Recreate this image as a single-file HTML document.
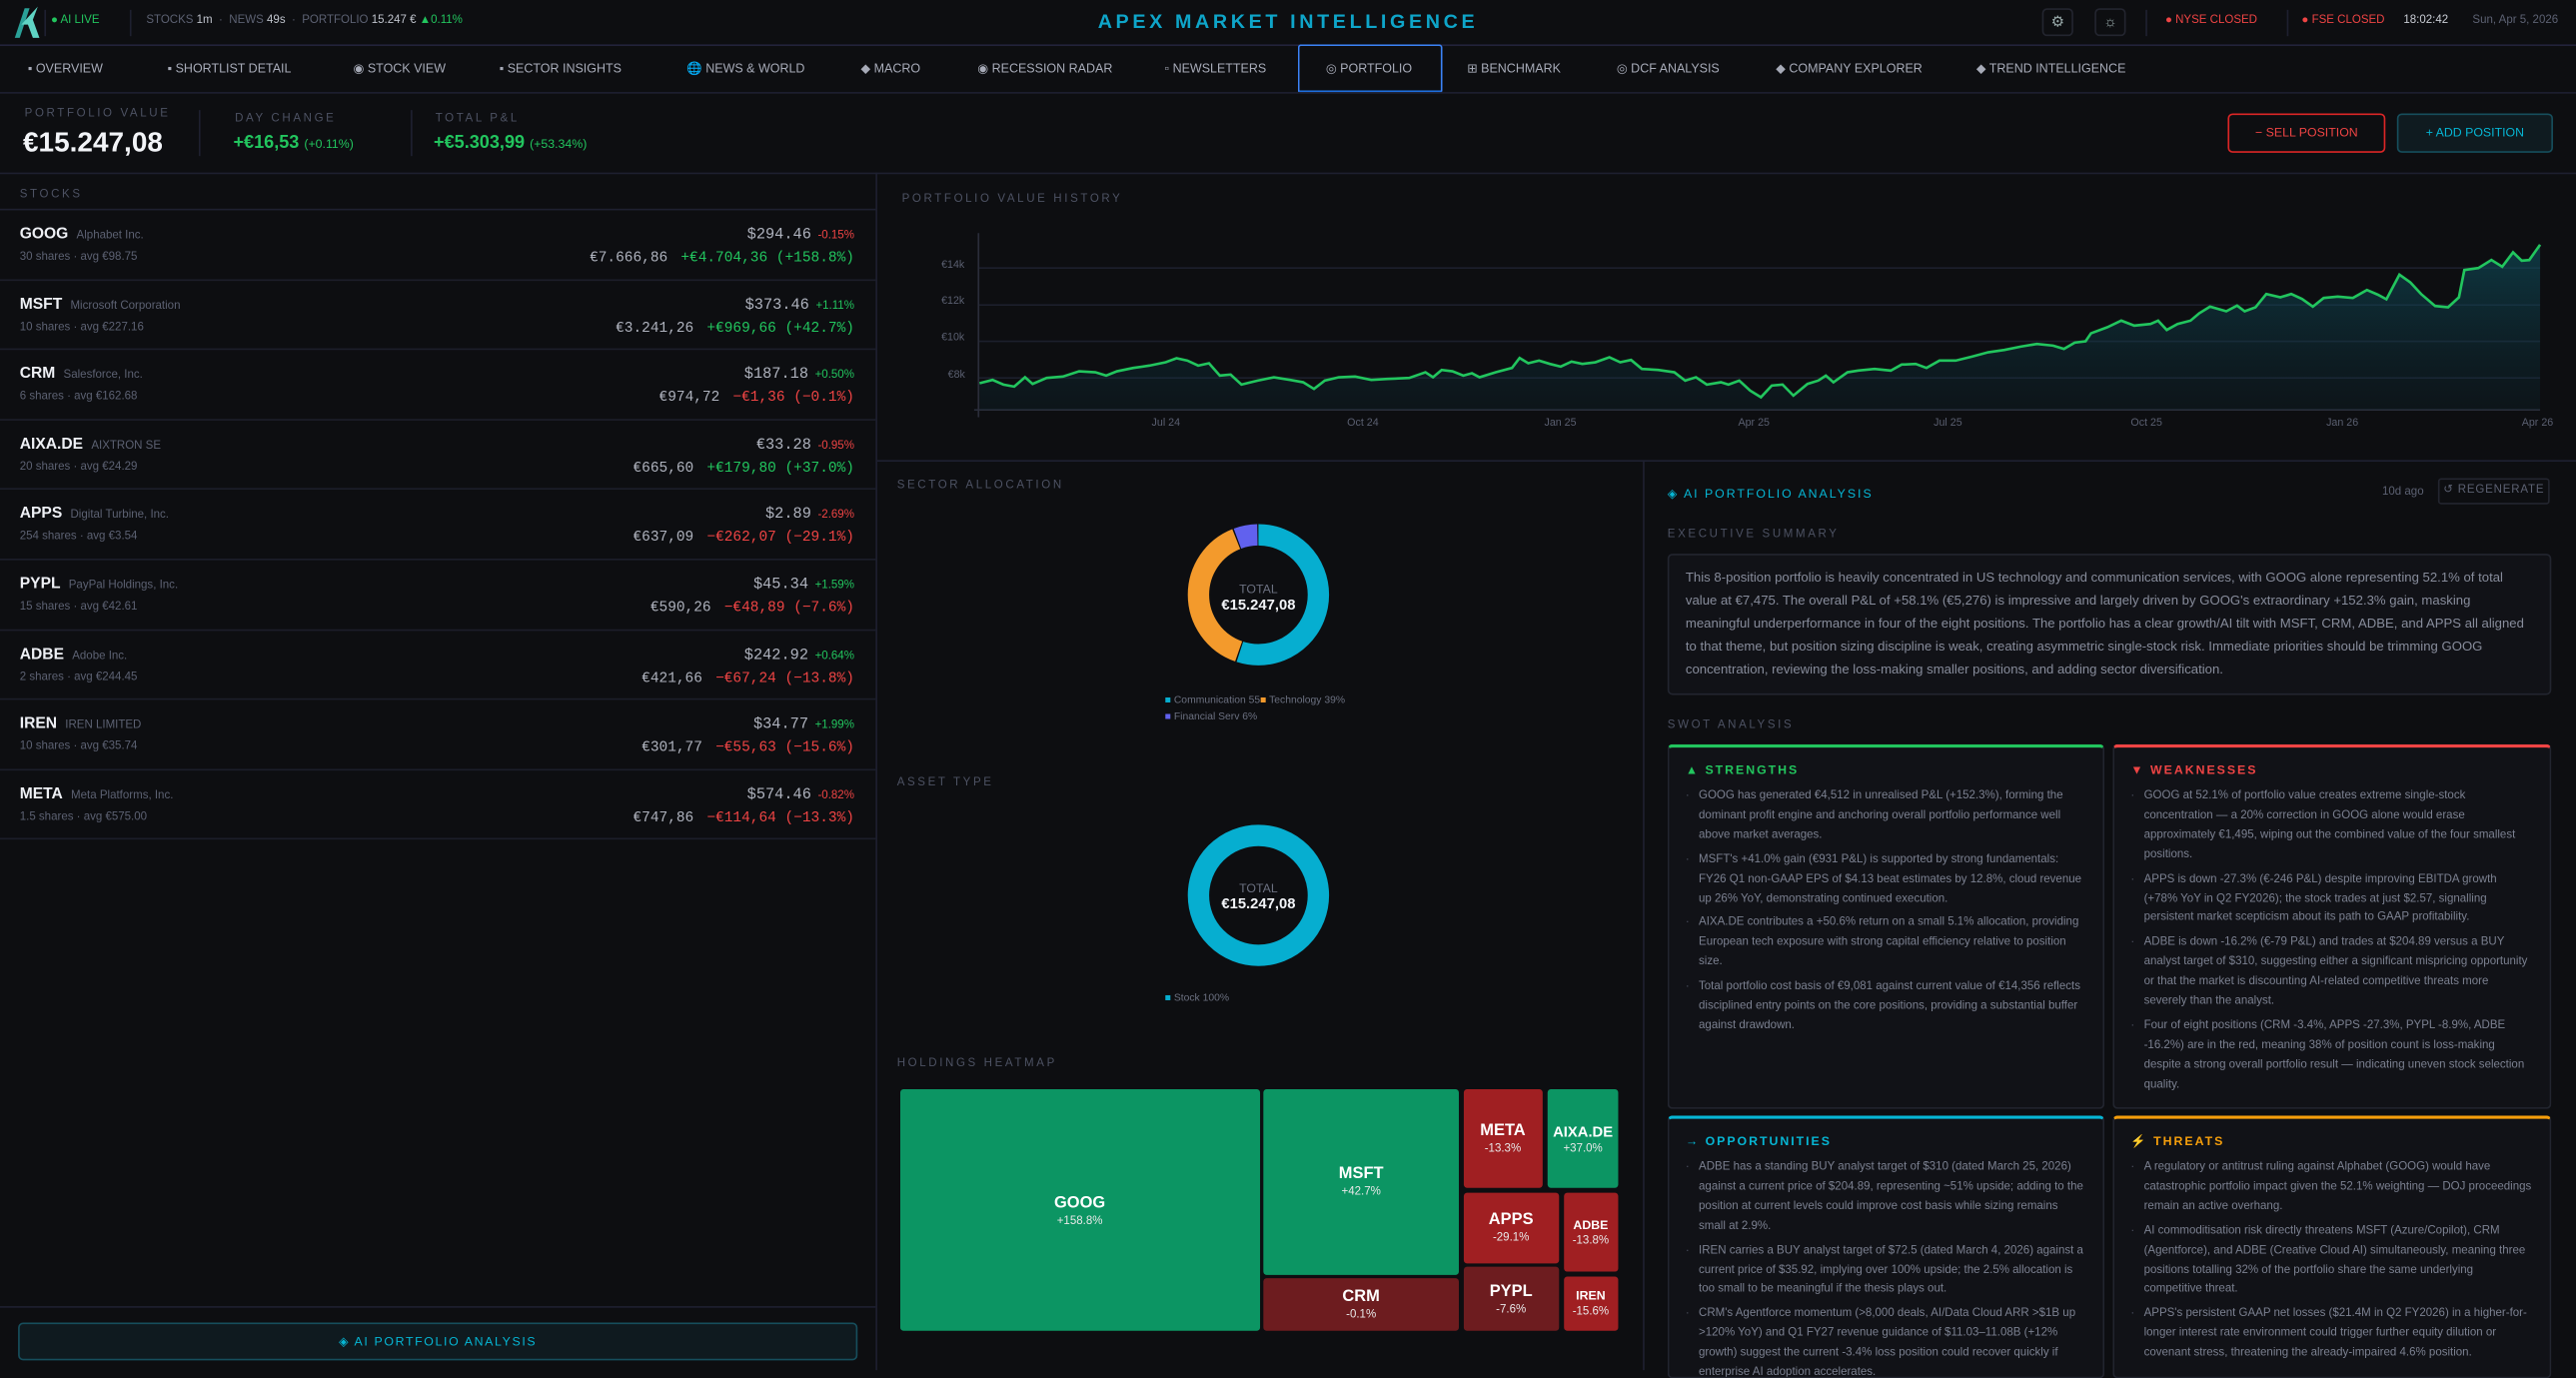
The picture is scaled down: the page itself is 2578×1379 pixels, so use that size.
<!DOCTYPE html>
<html><head><meta charset="utf-8">
<style>
*{box-sizing:border-box;margin:0;padding:0}
html,body{width:2578px;height:1370px;overflow:hidden;background:#0d0e11}
#w{position:absolute;left:0;top:0;width:1568px;height:834px;transform:scale(1.64413);transform-origin:0 0;font-family:"Liberation Sans",sans-serif;color:#c9ccd6;background:#0d0e11}
.a{position:absolute;white-space:nowrap}
.lbl{font-size:7px;letter-spacing:1.6px;color:#4d5263}
.g{color:#22c55e}.r{color:#ef4444}.c{color:#06b6d4}.m{font-family:"Liberation Mono",monospace}
.hl{position:absolute;height:1px;background:#1e2030}
.vl{position:absolute;width:1px;background:#1e2030}
.nav{font-size:7.6px;color:#a7abb8;top:37px}
.row{position:absolute;left:0;width:533px;height:42.6px;border-bottom:1px solid #1c1e2a}
.row .t{position:absolute;left:12px;top:9px;font-size:9.5px;font-weight:bold;color:#eef0f5}
.row .t span{font-weight:normal;font-size:7px;color:#5c6172;margin-left:5px}
.row .s{position:absolute;left:12px;top:25px;font-size:7px;color:#5c6172}
.row .p{position:absolute;right:13px;top:9px;font-size:9.3px;color:#aeb2bd;font-family:"Liberation Mono",monospace}
.row .p span{font-family:"Liberation Sans",sans-serif;font-size:7px;margin-left:4px}
.row .v{position:absolute;right:13px;top:24px;font-size:8.8px;color:#aeb2bd;font-family:"Liberation Mono",monospace}
.row .v b{font-weight:normal;margin-left:8px}
.hm{position:absolute;border-radius:2px;color:#fff;text-align:center;display:flex;flex-direction:column;justify-content:center;font-weight:bold}
.hm span{font-weight:normal;font-size:7px;color:#e8e8e8;margin-top:2px}
.box{position:absolute;border:1px solid #22252f;border-radius:3px;background:#111217}
.sw{position:absolute;border:1px solid #22252f;border-radius:3px;background:#111217;padding:9px 10px 0 10px;overflow:hidden}
.sw h4{font-size:7.5px;letter-spacing:1.2px;margin-bottom:6px}
.sw ul{list-style:none}
.sw li{font-size:7px;line-height:11.9px;color:#7b8090;padding-left:8px;position:relative;margin-bottom:3px;white-space:normal}
.sw li:before{content:"·";position:absolute;left:0;color:#4b5060}
.yl{font-size:6.5px;color:#5a5f70}
.xl{font-size:6.5px;color:#5a5f70}
</style></head><body><div id="w">

<svg class="a" style="left:7px;top:3px" width="18" height="21" viewBox="0 0 18 21"><path d="M2 20 L8 2 L11 2 L5 20Z" fill="#2aa198"/><path d="M6 12 L16 1 L13 9 L17 20 L13 20 L10 12Z" fill="#5fd4c4"/></svg>
<div class="vl" style="left:27px;top:6px;height:16px"></div>
<div class="a" style="left:31px;top:9px;font-size:7px" ><span class="g">● AI LIVE</span></div>
<div class="vl" style="left:79px;top:6px;height:16px"></div>
<div class="a" style="left:89px;top:9px;font-size:7px;color:#5c6172">STOCKS <span style="color:#bfc3cc">1m</span> &nbsp;· &nbsp;NEWS <span style="color:#bfc3cc">49s</span> &nbsp;· &nbsp;PORTFOLIO <span style="color:#bfc3cc">15.247 €</span> <span class="g">▲0.11%</span></div>
<div class="a" style="left:0;width:1568px;text-align:center;top:6px;font-size:12px;font-weight:bold;letter-spacing:2.2px;color:#0ea5c9">APEX MARKET INTELLIGENCE</div>
<div class="a" style="left:1243px;top:5px;width:19px;height:17px;border:1px solid #23252f;border-radius:3px;font-size:9px;text-align:center;line-height:15px;color:#9aa">⚙</div>
<div class="a" style="left:1275px;top:5px;width:19px;height:17px;border:1px solid #23252f;border-radius:3px;font-size:9px;text-align:center;line-height:15px;color:#9aa">☼</div>
<div class="vl" style="left:1306px;top:6px;height:16px"></div>
<div class="a r" style="left:1318px;top:9px;font-size:7px">● NYSE CLOSED</div>
<div class="vl" style="left:1392px;top:6px;height:16px"></div>
<div class="a r" style="left:1401px;top:9px;font-size:7px">● FSE CLOSED</div>
<div class="a" style="left:1463px;top:9px;font-size:7px;color:#c8ccd4">18:02:42</div>
<div class="a" style="left:1505px;top:9px;font-size:7px;color:#5c6172">Sun, Apr 5, 2026</div>
<div class="hl" style="left:0;top:27px;width:1568px;background:#22233a"></div>

<div class="a nav" style="left:17px">▪ OVERVIEW</div>
<div class="a nav" style="left:102px">▪ SHORTLIST DETAIL</div>
<div class="a nav" style="left:215px">◉ STOCK VIEW</div>
<div class="a nav" style="left:304px">▪ SECTOR INSIGHTS</div>
<div class="a nav" style="left:418px">🌐 NEWS &amp; WORLD</div>
<div class="a nav" style="left:524px">◆ MACRO</div>
<div class="a nav" style="left:595px">◉ RECESSION RADAR</div>
<div class="a nav" style="left:709px">▫ NEWSLETTERS</div>
<div class="a" style="left:790px;top:27px;width:88px;height:30px;border:1px solid #3b82f6;border-bottom:2px solid #1d6fe0;border-radius:2px"></div>
<div class="a nav c" style="left:807px">◎ PORTFOLIO</div>
<div class="a nav" style="left:893px">⊞ BENCHMARK</div>
<div class="a nav" style="left:984px">◎ DCF ANALYSIS</div>
<div class="a nav" style="left:1081px">◆ COMPANY EXPLORER</div>
<div class="a nav" style="left:1203px">◆ TREND INTELLIGENCE</div>
<div class="hl" style="left:0;top:56px;width:1568px"></div>

<div class="a lbl" style="left:15px;top:66px">PORTFOLIO VALUE</div>
<div class="a" style="left:14px;top:77px;font-size:17px;font-weight:bold;color:#f2f4f8">€15.247,08</div>
<div class="vl" style="left:121px;top:67px;height:28px"></div>
<div class="a lbl" style="left:143px;top:69px">DAY CHANGE</div>
<div class="a g" style="left:142px;top:81px;font-size:11px;font-weight:bold">+€16,53 <span style="font-size:7.5px;font-weight:normal">(+0.11%)</span></div>
<div class="vl" style="left:250px;top:67px;height:28px"></div>
<div class="a lbl" style="left:265px;top:69px">TOTAL P&amp;L</div>
<div class="a g" style="left:264px;top:81px;font-size:11px;font-weight:bold">+€5.303,99 <span style="font-size:7.5px;font-weight:normal">(+53.34%)</span></div>
<div class="a r" style="left:1356px;top:69px;width:96px;height:24px;border:1px solid #dc2626;border-radius:3px;font-size:7.5px;text-align:center;line-height:22px">− SELL POSITION</div>
<div class="a c" style="left:1459px;top:69px;width:95px;height:24px;border:1px solid #164e5c;background:#0f1b20;border-radius:3px;font-size:7.5px;text-align:center;line-height:22px">+ ADD POSITION</div>
<div class="hl" style="left:0;top:105px;width:1568px"></div>

<div class="vl" style="left:533px;top:105px;height:729px"></div>
<div class="a lbl" style="left:12px;top:115px">STOCKS</div>
<div class="hl" style="left:0;top:127px;width:533px"></div>
<div class="row" style="top:128px"><div class="t">GOOG<span>Alphabet Inc.</span></div><div class="s">30 shares · avg €98.75</div><div class="p">$294.46<span class="r">-0.15%</span></div><div class="v">€7.666,86<b class="g">+€4.704,36 (+158.8%)</b></div></div>
<div class="row" style="top:170.6px"><div class="t">MSFT<span>Microsoft Corporation</span></div><div class="s">10 shares · avg €227.16</div><div class="p">$373.46<span class="g">+1.11%</span></div><div class="v">€3.241,26<b class="g">+€969,66 (+42.7%)</b></div></div>
<div class="row" style="top:213.2px"><div class="t">CRM<span>Salesforce, Inc.</span></div><div class="s">6 shares · avg €162.68</div><div class="p">$187.18<span class="g">+0.50%</span></div><div class="v">€974,72<b class="r">−€1,36 (−0.1%)</b></div></div>
<div class="row" style="top:255.8px"><div class="t">AIXA.DE<span>AIXTRON SE</span></div><div class="s">20 shares · avg €24.29</div><div class="p">€33.28<span class="r">-0.95%</span></div><div class="v">€665,60<b class="g">+€179,80 (+37.0%)</b></div></div>
<div class="row" style="top:298.4px"><div class="t">APPS<span>Digital Turbine, Inc.</span></div><div class="s">254 shares · avg €3.54</div><div class="p">$2.89<span class="r">-2.69%</span></div><div class="v">€637,09<b class="r">−€262,07 (−29.1%)</b></div></div>
<div class="row" style="top:341px"><div class="t">PYPL<span>PayPal Holdings, Inc.</span></div><div class="s">15 shares · avg €42.61</div><div class="p">$45.34<span class="g">+1.59%</span></div><div class="v">€590,26<b class="r">−€48,89 (−7.6%)</b></div></div>
<div class="row" style="top:383.6px"><div class="t">ADBE<span>Adobe Inc.</span></div><div class="s">2 shares · avg €244.45</div><div class="p">$242.92<span class="g">+0.64%</span></div><div class="v">€421,66<b class="r">−€67,24 (−13.8%)</b></div></div>
<div class="row" style="top:426.2px"><div class="t">IREN<span>IREN LIMITED</span></div><div class="s">10 shares · avg €35.74</div><div class="p">$34.77<span class="g">+1.99%</span></div><div class="v">€301,77<b class="r">−€55,63 (−15.6%)</b></div></div>
<div class="row" style="top:468.8px"><div class="t">META<span>Meta Platforms, Inc.</span></div><div class="s">1.5 shares · avg €575.00</div><div class="p">$574.46<span class="r">-0.82%</span></div><div class="v">€747,86<b class="r">−€114,64 (−13.3%)</b></div></div>
<div class="hl" style="left:0;top:795px;width:533px"></div>
<div class="a c" style="left:11px;top:805px;width:511px;height:23px;border:1px solid #164e5c;background:#0f1a1f;border-radius:3px;font-size:7.5px;letter-spacing:1px;text-align:center;line-height:21px">◈ AI PORTFOLIO ANALYSIS</div>

<div class="a lbl" style="left:549px;top:118px">PORTFOLIO VALUE HISTORY</div>
<svg class="a" style="left:535px;top:109.5px" width="1032.9" height="176.4" viewBox="0 0 1568 870" preserveAspectRatio="none">
<defs><linearGradient id="gf" x1="0" y1="0" x2="0" y2="1"><stop offset="0" stop-color="#0e5a6a" stop-opacity="0.55"/><stop offset="1" stop-color="#0e3a48" stop-opacity="0.15"/></linearGradient></defs>
<g stroke="#1c1f2c" stroke-width="1">
<line x1="92" y1="262" x2="1535" y2="262" vector-effect="non-scaling-stroke"/><line x1="92" y1="373" x2="1535" y2="373" vector-effect="non-scaling-stroke"/><line x1="92" y1="482" x2="1535" y2="482" vector-effect="non-scaling-stroke"/><line x1="92" y1="592" x2="1535" y2="592" vector-effect="non-scaling-stroke"/></g>
<line x1="92" y1="157" x2="92" y2="710" stroke="#2a2d3a" vector-effect="non-scaling-stroke"/>
<line x1="88" y1="688" x2="1535" y2="688" stroke="#2a2d3a" vector-effect="non-scaling-stroke"/>
<polygon fill="url(#gf)" points="93,688 93,608 105,598 115,612 125,618 135,590 142,610 155,592 170,588 185,572 200,575 210,585 220,572 235,562 250,555 265,545 275,533 285,540 295,555 305,548 315,585 325,582 335,612 350,600 365,590 380,598 392,605 402,625 412,600 425,590 440,588 455,598 470,595 490,592 505,575 512,590 520,568 530,572 540,585 548,578 555,590 570,575 585,562 592,532 600,548 610,540 620,550 630,558 640,543 650,550 662,545 675,530 685,545 695,538 705,565 720,568 735,575 745,600 755,590 765,612 778,605 785,612 795,600 805,630 815,650 825,615 835,612 845,645 858,610 868,600 875,585 882,605 895,575 905,570 920,565 935,570 945,552 958,550 968,562 980,540 995,540 1010,528 1025,515 1040,508 1055,498 1070,490 1085,495 1095,505 1105,486 1115,482 1120,458 1135,440 1148,420 1160,435 1175,430 1182,420 1190,448 1200,430 1212,420 1220,398 1230,378 1245,392 1255,375 1262,392 1272,380 1282,340 1295,350 1305,340 1315,355 1325,378 1335,352 1348,348 1362,352 1375,328 1385,342 1393,356 1405,282 1415,305 1425,340 1438,376 1450,380 1460,350 1465,268 1478,262 1490,238 1500,258 1510,215 1518,240 1525,238 1535,192 1535,688"/>
<polyline fill="none" stroke="#22c55e" stroke-width="1.6" vector-effect="non-scaling-stroke" points="93,608 105,598 115,612 125,618 135,590 142,610 155,592 170,588 185,572 200,575 210,585 220,572 235,562 250,555 265,545 275,533 285,540 295,555 305,548 315,585 325,582 335,612 350,600 365,590 380,598 392,605 402,625 412,600 425,590 440,588 455,598 470,595 490,592 505,575 512,590 520,568 530,572 540,585 548,578 555,590 570,575 585,562 592,532 600,548 610,540 620,550 630,558 640,543 650,550 662,545 675,530 685,545 695,538 705,565 720,568 735,575 745,600 755,590 765,612 778,605 785,612 795,600 805,630 815,650 825,615 835,612 845,645 858,610 868,600 875,585 882,605 895,575 905,570 920,565 935,570 945,552 958,550 968,562 980,540 995,540 1010,528 1025,515 1040,508 1055,498 1070,490 1085,495 1095,505 1105,486 1115,482 1120,458 1135,440 1148,420 1160,435 1175,430 1182,420 1190,448 1200,430 1212,420 1220,398 1230,378 1245,392 1255,375 1262,392 1272,380 1282,340 1295,350 1305,340 1315,355 1325,378 1335,352 1348,348 1362,352 1375,328 1385,342 1393,356 1405,282 1415,305 1425,340 1438,376 1450,380 1460,350 1465,268 1478,262 1490,238 1500,258 1510,215 1518,240 1525,238 1535,192"/>
</svg>
<div class="a yl" style="left:573px;top:158px">€14k</div>
<div class="a yl" style="left:573px;top:180px">€12k</div>
<div class="a yl" style="left:573px;top:202px">€10k</div>
<div class="a yl" style="left:577px;top:225px">€8k</div>
<div class="a xl" style="left:701px;top:254px">Jul 24</div>
<div class="a xl" style="left:820px;top:254px">Oct 24</div>
<div class="a xl" style="left:940px;top:254px">Jan 25</div>
<div class="a xl" style="left:1058px;top:254px">Apr 25</div>
<div class="a xl" style="left:1177px;top:254px">Jul 25</div>
<div class="a xl" style="left:1297px;top:254px">Oct 25</div>
<div class="a xl" style="left:1416px;top:254px">Jan 26</div>
<div class="a xl" style="left:1535px;top:254px">Apr 26</div>
<div class="hl" style="left:534px;top:280px;width:1034px"></div>
<div class="vl" style="left:1000px;top:280px;height:554px"></div>

<div class="a lbl" style="left:546px;top:292px">SECTOR ALLOCATION</div>
<svg class="a" style="left:716px;top:312px" width="100" height="100" viewBox="-50 -50 100 100">
<g fill="none" stroke-width="13" transform="rotate(-90)">
<circle r="36.5" stroke="#06aed0" stroke-dasharray="126.1 229.3" stroke-dashoffset="0"/>
<circle r="36.5" stroke="#f39a2c" stroke-dasharray="88.5 229.3" stroke-dashoffset="-126.9"/>
<circle r="36.5" stroke="#6161ee" stroke-dasharray="12.4 229.3" stroke-dashoffset="-216.2"/>
</g></svg>
<div class="a" style="left:716px;width:100px;text-align:center;top:354px;font-size:7.5px;color:#6b7080">TOTAL</div>
<div class="a" style="left:716px;width:100px;text-align:center;top:363px;font-size:9px;font-weight:bold;color:#f2f4f8">€15.247,08</div>
<div class="a" style="left:709px;top:423px;font-size:6.3px;color:#6b7080"><span style="color:#06aed0">■</span> Communication 55<span style="color:#f39a2c">■</span> Technology 39%</div>
<div class="a" style="left:709px;top:433px;font-size:6.3px;color:#6b7080"><span style="color:#6161ee">■</span> Financial Serv 6%</div>

<div class="a lbl" style="left:546px;top:473px">ASSET TYPE</div>
<svg class="a" style="left:716px;top:495px" width="100" height="100" viewBox="-50 -50 100 100"><circle r="36.5" fill="none" stroke="#06aed0" stroke-width="13"/></svg>
<div class="a" style="left:716px;width:100px;text-align:center;top:536px;font-size:7.5px;color:#6b7080">TOTAL</div>
<div class="a" style="left:716px;width:100px;text-align:center;top:545px;font-size:9px;font-weight:bold;color:#f2f4f8">€15.247,08</div>
<div class="a" style="left:709px;top:604px;font-size:6.3px;color:#6b7080"><span style="color:#06aed0">■</span> Stock 100%</div>

<div class="a lbl" style="left:546px;top:644px">HOLDINGS HEATMAP</div>
<div class="hm" style="left:548px;top:663px;width:218.5px;height:147px;background:#0c9563;font-size:10px">GOOG<span>+158.8%</span></div>
<div class="hm" style="left:769px;top:663px;width:119px;height:112.5px;background:#0c9563;font-size:10px">MSFT<span>+42.7%</span></div>
<div class="hm" style="left:769px;top:778px;width:119px;height:32px;background:#6d1c1f;font-size:10px">CRM<span>-0.1%</span></div>
<div class="hm" style="left:890.5px;top:663px;width:48.5px;height:60px;background:#a01f22;font-size:10px">META<span>-13.3%</span></div>
<div class="hm" style="left:942px;top:663px;width:43px;height:60px;background:#0c9563;font-size:9px">AIXA.DE<span>+37.0%</span></div>
<div class="hm" style="left:890.5px;top:726px;width:58.5px;height:42.5px;background:#a01f22;font-size:10px">APPS<span>-29.1%</span></div>
<div class="hm" style="left:951.5px;top:726px;width:33.5px;height:48px;background:#a01f22;font-size:7.5px">ADBE<span>-13.8%</span></div>
<div class="hm" style="left:890.5px;top:771px;width:58.5px;height:39px;background:#6d1c1f;font-size:10px">PYPL<span>-7.6%</span></div>
<div class="hm" style="left:951.5px;top:776.5px;width:33.5px;height:33.5px;background:#a01f22;font-size:7.5px">IREN<span>-15.6%</span></div>

<div class="a c" style="left:1015px;top:296px;font-size:7.5px;letter-spacing:1.2px">◈ AI PORTFOLIO ANALYSIS</div>
<div class="a" style="left:1450px;top:296px;font-size:7px;color:#5c6172">10d ago</div>
<div class="a" style="left:1484px;top:291px;width:68px;height:16px;border:1px solid #23252f;border-radius:2px;font-size:7px;color:#5c6172;text-align:center;line-height:14px;letter-spacing:.5px">↺ REGENERATE</div>
<div class="a lbl" style="left:1015px;top:322px">EXECUTIVE SUMMARY</div>
<div class="box" style="left:1015px;top:337px;width:538px;height:86px;padding:7px 10px;font-size:8px;line-height:14px;color:#878c9b;white-space:normal">This 8-position portfolio is heavily concentrated in US technology and communication services, with GOOG alone representing 52.1% of total value at €7,475. The overall P&amp;L of +58.1% (€5,276) is impressive and largely driven by GOOG's extraordinary +152.3% gain, masking meaningful underperformance in four of the eight positions. The portfolio has a clear growth/AI tilt with MSFT, CRM, ADBE, and APPS all aligned to that theme, but position sizing discipline is weak, creating asymmetric single-stock risk. Immediate priorities should be trimming GOOG concentration, reviewing the loss-making smaller positions, and adding sector diversification.</div>
<div class="a lbl" style="left:1015px;top:438px">SWOT ANALYSIS</div>

<div class="sw" style="left:1015px;top:453px;width:266px;height:222px;border-top:2px solid #22c55e"><h4 class="g">▲ STRENGTHS</h4><ul>
<li>GOOG has generated €4,512 in unrealised P&amp;L (+152.3%), forming the dominant profit engine and anchoring overall portfolio performance well above market averages.</li>
<li>MSFT's +41.0% gain (€931 P&amp;L) is supported by strong fundamentals: FY26 Q1 non-GAAP EPS of $4.13 beat estimates by 12.8%, cloud revenue up 26% YoY, demonstrating continued execution.</li>
<li>AIXA.DE contributes a +50.6% return on a small 5.1% allocation, providing European tech exposure with strong capital efficiency relative to position size.</li>
<li>Total portfolio cost basis of €9,081 against current value of €14,356 reflects disciplined entry points on the core positions, providing a substantial buffer against drawdown.</li></ul></div>

<div class="sw" style="left:1286px;top:453px;width:267px;height:222px;border-top:2px solid #ef4444"><h4 class="r">▼ WEAKNESSES</h4><ul>
<li>GOOG at 52.1% of portfolio value creates extreme single-stock concentration — a 20% correction in GOOG alone would erase approximately €1,495, wiping out the combined value of the four smallest positions.</li>
<li>APPS is down -27.3% (€-246 P&amp;L) despite improving EBITDA growth (+78% YoY in Q2 FY2026); the stock trades at just $2.57, signalling persistent market scepticism about its path to GAAP profitability.</li>
<li>ADBE is down -16.2% (€-79 P&amp;L) and trades at $204.89 versus a BUY analyst target of $310, suggesting either a significant mispricing opportunity or that the market is discounting AI-related competitive threats more severely than the analyst.</li>
<li>Four of eight positions (CRM -3.4%, APPS -27.3%, PYPL -8.9%, ADBE -16.2%) are in the red, meaning 38% of position count is loss-making despite a strong overall portfolio result — indicating uneven stock selection quality.</li></ul></div>

<div class="sw" style="left:1015px;top:679px;width:266px;height:160px;border-top:2px solid #06b6d4"><h4 class="c">→ OPPORTUNITIES</h4><ul>
<li>ADBE has a standing BUY analyst target of $310 (dated March 25, 2026) against a current price of $204.89, representing ~51% upside; adding to the position at current levels could improve cost basis while sizing remains small at 2.9%.</li>
<li>IREN carries a BUY analyst target of $72.5 (dated March 4, 2026) against a current price of $35.92, implying over 100% upside; the 2.5% allocation is too small to be meaningful if the thesis plays out.</li>
<li>CRM's Agentforce momentum (&gt;8,000 deals, AI/Data Cloud ARR &gt;$1B up &gt;120% YoY) and Q1 FY27 revenue guidance of $11.03–11.08B (+12% growth) suggest the current -3.4% loss position could recover quickly if enterprise AI adoption accelerates.</li></ul></div>

<div class="sw" style="left:1286px;top:679px;width:267px;height:160px;border-top:2px solid #f59e0b"><h4 style="color:#f59e0b">⚡ THREATS</h4><ul>
<li>A regulatory or antitrust ruling against Alphabet (GOOG) would have catastrophic portfolio impact given the 52.1% weighting — DOJ proceedings remain an active overhang.</li>
<li>AI commoditisation risk directly threatens MSFT (Azure/Copilot), CRM (Agentforce), and ADBE (Creative Cloud AI) simultaneously, meaning three positions totalling 32% of the portfolio share the same underlying competitive threat.</li>
<li>APPS's persistent GAAP net losses ($21.4M in Q2 FY2026) in a higher-for-longer interest rate environment could trigger further equity dilution or covenant stress, threatening the already-impaired 4.6% position.</li></ul></div>

</div></body></html>
